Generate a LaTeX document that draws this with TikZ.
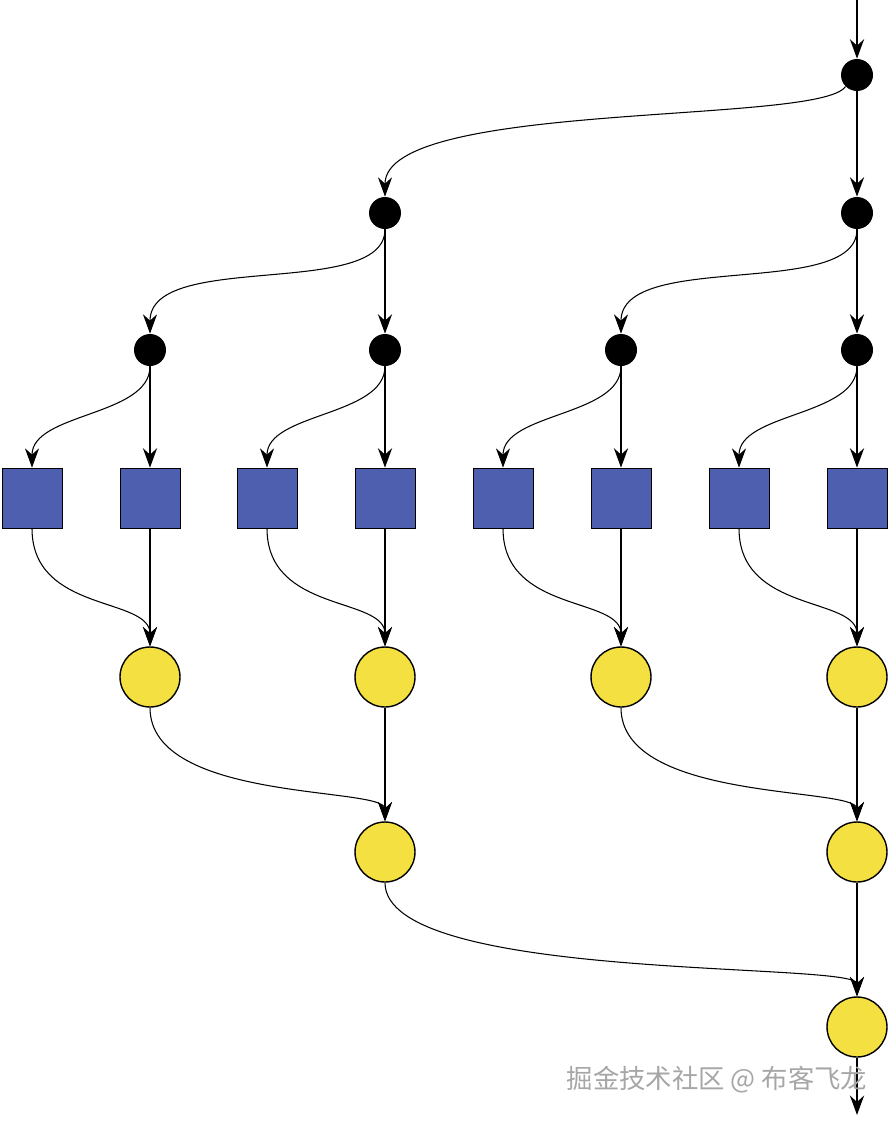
\documentclass[tikz,border=0pt]{standalone}
\usepackage{fontspec}
\newfontfamily\cjk{Noto Sans CJK SC}
\usetikzlibrary{arrows.meta}
\definecolor{sqblue}{HTML}{4F5FB0}
\definecolor{sumyellow}{HTML}{F5E042}
\tikzstyle{split}=[circle,fill=black,minimum size=0.64cm,inner sep=0pt]
\tikzstyle{leaf}=[draw=black,fill=sqblue,minimum size=1.2cm,inner sep=0pt]
\tikzstyle{sum}=[circle,draw=black,thick,fill=sumyellow,minimum size=1.2cm,inner sep=0pt]
\tikzstyle{flow}=[-{Stealth[length=11pt,width=8pt]},line width=0.6pt]
\tikzstyle{main}=[flow,line width=1.4pt]
\begin{document}
\begin{tikzpicture}[x=0.02cm,y=-0.02cm]
  \useasboundingbox (0,0) rectangle (887,1123);
  % split points
  \node[split] (a) at (857,75) {};
  \node[split] (b1) at (385,213) {};
  \node[split] (b2) at (857,213) {};
  \node[split] (c1) at (150,350) {};
  \node[split] (c2) at (385,350) {};
  \node[split] (c3) at (621,350) {};
  \node[split] (c4) at (857,350) {};
  % leaves
  \foreach \i/\x in {1/32,2/150,3/267,4/385,5/503,6/621,7/739,8/857}
    \node[leaf] (s\i) at (\x,498) {};
  % sums
  \node[sum] (r1) at (150,677) {};
  \node[sum] (r2) at (385,677) {};
  \node[sum] (r3) at (621,677) {};
  \node[sum] (r4) at (857,677) {};
  \node[sum] (t1) at (385,852) {};
  \node[sum] (t2) at (857,852) {};
  \node[sum] (u) at (857,1027) {};
  \coordinate (in) at (857,0);
  \coordinate (out) at (857,1115);

  \draw[main] (in) -- (a);
  \draw[main] (a) -- (b2);
  \draw[flow] (a.south west) .. controls (820,125) and (385,100) .. (b1.north);
  \draw[main] (b1) -- (c2);
  \draw[main] (b2) -- (c4);
  \draw[flow] (b1.south) .. controls (385,300) and (150,250) .. (c1.north);
  \draw[flow] (b2.south) .. controls (857,300) and (621,250) .. (c3.north);
  \foreach \c/\l/\r in {c1/s1/s2,c2/s3/s4,c3/s5/s6,c4/s7/s8}{
    \draw[main] (\c) -- (\r);
    \draw[flow] (\c.south) .. controls +(0,50) and +(0,-55) .. (\l.north);
  }
  \foreach \l/\r/\s in {s1/s2/r1,s3/s4/r2,s5/s6/r3,s7/s8/r4}{
    \draw[flow] (\r) -- (\s);
    \draw[flow] (\l.south) .. controls +(0,85) and +(0,-50) .. (\s.north);
  }
  \draw[flow] (r2) -- (t1);
  \draw[flow] (r4) -- (t2);
  \draw[flow] (r1.south) .. controls +(0,95) and +(0,-35) .. (t1.north);
  \draw[flow] (r3.south) .. controls +(0,95) and +(0,-35) .. (t2.north);
  \draw[flow] (t2) -- (u);
  \draw[flow] (t1.south) .. controls +(0,100) and +(0,-35) .. (u.north);
  \draw[main] (u) -- (out);

  \node[font=\cjk\fontsize{15}{15}\selectfont,text=gray!70,anchor=center] (mark) at (717,1080) {掘金技术社区 @ 布客飞龙};
\end{tikzpicture}
\end{document}
